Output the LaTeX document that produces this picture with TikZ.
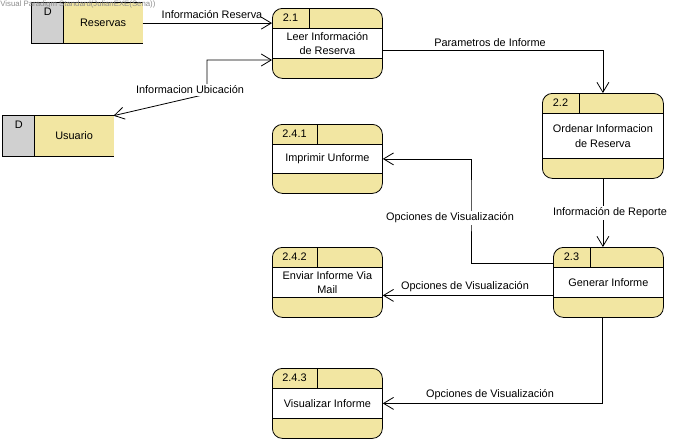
\documentclass[tikz,border=0pt]{standalone}
\usepackage{fontspec}
\setmainfont{Liberation Sans}
\usetikzlibrary{arrows.meta, calc}
\definecolor{ProcYellow}{HTML}{F2E6A2}
\definecolor{StoreGray}{HTML}{D0D0D0}
\definecolor{MarkGray}{HTML}{8C8C8C}
\newcommand{\dfdfont}{\fontsize{10.9}{14.5}\selectfont}

% process: name, left, top, width, height, divider, number, text
\newcommand{\dfdproc}[8]{%
  \node[proc, minimum width=#4pt, minimum height=#5pt, anchor=north west] (#1) at (#2,#3) {};
  \draw[fill=white] ([yshift=-20pt]#1.north west) rectangle ([yshift=20pt]#1.south east);
  \draw ([xshift=#6pt]#1.north west) -- ([xshift=#6pt,yshift=-20pt]#1.north west);
  \node (#1-num) at ([xshift=#6pt/2,yshift=-10pt]#1.north west) {#7};
  \node[align=center] (#1-txt) at (#1.center) {#8};
}
% data store: name, left, top, text
\newcommand{\dfdstore}[4]{%
  \node[anchor=north west, minimum width=110pt, minimum height=40pt, inner sep=0pt] (#1) at (#2,#3) {};
  \fill[StoreGray] (#1.north west) rectangle ([xshift=32pt]#1.south west);
  \fill[ProcYellow] ([xshift=32pt]#1.north west) rectangle (#1.south east);
  \draw (#1.north east) -- (#1.north west) -- (#1.south west) -- (#1.south east);
  \draw ([xshift=32pt]#1.north west) -- ([xshift=32pt]#1.south west);
  \node (#1-d) at ([xshift=16pt,yshift=-9pt]#1.north west) {D};
  \node (#1-txt) at ([xshift=16pt]#1.center) {#4};
}

\begin{document}
\begin{tikzpicture}[x=1pt, y=-1pt, line width=0.8pt,
    every node/.style={font=\dfdfont, inner sep=1.5pt},
    proc/.style={draw, fill=ProcYellow, rounded corners=10pt, inner sep=0pt},
    flow/.style={draw, -{Straight Barb[length=10pt,width=12pt]}},
    flowboth/.style={draw, {Straight Barb[length=10pt,width=12pt]}-{Straight Barb[length=10pt,width=12pt]}},
    lbl/.style={fill=white}]
  \useasboundingbox (0,0) rectangle (682,442);

  % Data stores
  \dfdstore{res}{31.7}{2.7}{Reservas}
  \dfdstore{usr}{2.7}{115.7}{Usuario}

  % Processes
  \dfdproc{p21}{272}{8}{110}{70}{37}{2.1}{Leer Información\\de Reserva}
  \dfdproc{p22}{542}{93}{121}{85}{37}{2.2}{Ordenar Informacion\\de Reserva}
  \dfdproc{p23}{553}{247}{110}{70}{37}{2.3}{Generar Informe}
  \dfdproc{p241}{272}{124}{110}{69}{45}{2.4.1}{Imprimir Unforme}
  \dfdproc{p242}{272}{247}{110}{70}{45}{2.4.2}{Enviar Informe Via\\Mail}
  \dfdproc{p243}{272}{368}{110}{70}{45}{2.4.3}{Visualizar Informe}

  % Flows
  \draw[flow] (res.east) -- (res.east -| p21.west);
  \node (l-res) at (212,15) {Información Reserva};

  \coordinate (ubic) at (207,94);
  \draw[flowboth] (usr.north east) -- (ubic) |- ([yshift=-52pt]p21.north west);
  \node[lbl] (l-ubic) at (190,90) {Informacion Ubicación};

  \draw[flow] ([yshift=-7pt]p21.east) -| (p22.north);
  \node[lbl] (l-param) at (490,43) {Parametros de Informe};

  \draw[flow] (p22.south) -- (p22.south |- p23.north);
  \node[lbl] (l-rep) at (610,213) {Información de Reporte};

  \coordinate (opc) at (471,200);
  \draw[flow] ([yshift=-16pt]p23.north west) -| (opc) |- (p241.east);
  \node[lbl] (l-opc1) at (450,218) {Opciones de Visualización};

  \draw[flow] ([yshift=-13pt]p23.west) -- ([yshift=-13pt]p242.east);
  \node (l-opc2) at (465,287) {Opciones de Visualización};

  \draw[flow] ([xshift=-6pt]p23.south) |- (p243.east);
  \node (l-opc3) at (490,395) {Opciones de Visualización};

  % Watermark
  \node[anchor=north west, inner sep=0pt, text=MarkGray, font=\fontsize{7.8}{8}\selectfont] (vpmark) at (0,0) {Visual Paradigm Standard(JulianEXE(Sena))};
\end{tikzpicture}
\end{document}
